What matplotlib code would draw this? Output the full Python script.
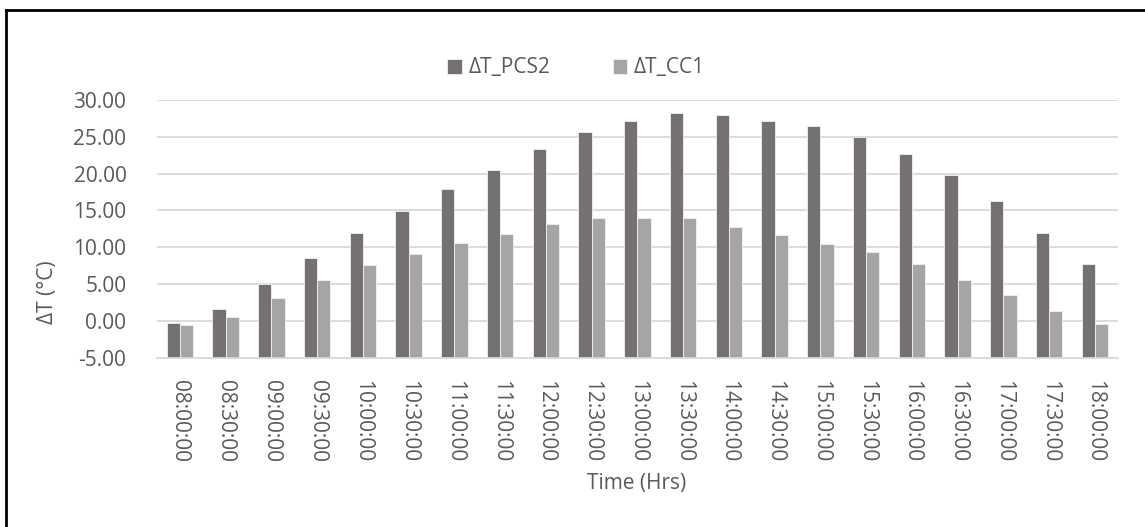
import numpy as np
import matplotlib.pyplot as plt
from matplotlib.lines import Line2D

times = ["08:00:00", "08:30:00", "09:00:00", "09:30:00", "10:00:00", "10:30:00",
         "11:00:00", "11:30:00", "12:00:00", "12:30:00", "13:00:00", "13:30:00",
         "14:00:00", "14:30:00", "15:00:00", "15:30:00", "16:00:00", "16:30:00",
         "17:00:00", "17:30:00", "18:00:00"]
dt_pcs2 = [-0.3, 1.7, 5.0, 8.6, 12.0, 14.9, 17.9, 20.5, 23.3, 25.6, 27.1, 28.2,
           27.9, 27.1, 26.4, 25.0, 22.6, 19.8, 16.3, 12.0, 7.7]
dt_cc1 = [-0.5, 0.6, 3.1, 5.6, 7.6, 9.1, 10.6, 11.8, 13.1, 14.0, 14.0, 14.0,
          12.8, 11.7, 10.5, 9.3, 7.7, 5.6, 3.6, 1.4, -0.4]
yticks = [-5, 0, 5, 10, 15, 20, 25, 30]

txt = "#595959"
plt.rcParams["font.family"] = ["Open Sans", "DejaVu Sans"]

fig = plt.figure(figsize=(11.45, 5.27), dpi=100)
ax = fig.add_axes([0.1371, 0.3207, 0.8391, 0.4901])

x = np.arange(len(times))
w = 0.29
base = yticks[0]
ax.bar(x - w/2, np.array(dt_pcs2) - base, w, bottom=base, color="#767171",
       edgecolor="#f2f2f2", linewidth=0.6, label="ΔT_PCS2")
ax.bar(x + w/2, np.array(dt_cc1) - base, w, bottom=base, color="#A5A5A5",
       edgecolor="#f2f2f2", linewidth=0.6, label="ΔT_CC1")

ax.set_xlim(-0.5, len(times) - 0.5)
ax.set_ylim(yticks[0], yticks[-1])
ax.set_yticks(yticks)
ax.set_yticklabels([f"{v:.2f}" for v in yticks])
ax.set_xticks(x)
ax.set_xticklabels(times, rotation=-90, va="top", ha="center")
ax.yaxis.grid(True, color="#d9d9d9", linewidth=1.3)
ax.set_axisbelow(True)
for s in ["top", "right", "left"]:
    ax.spines[s].set_visible(False)
ax.spines["bottom"].set_color("#d9d9d9")
ax.spines["bottom"].set_linewidth(1.3)
ax.tick_params(axis="both", length=0, labelsize=15, colors=txt)
ax.tick_params(axis="y", pad=22)
ax.tick_params(axis="x", pad=16)

fig.text(48/1145, 1 - 292/527, "ΔT (°C)", rotation=90, ha="center", va="center",
         fontsize=15, color=txt)
fig.text(637/1145, 1 - 484/527, "Time (Hrs)", ha="center", va="center",
         fontsize=15, color=txt)

fig.legend(loc="center", bbox_to_anchor=(576/1145, 1 - 68/527), ncol=2,
           frameon=False, fontsize=15, labelcolor=txt, handlelength=0.7,
           handleheight=0.7, handletextpad=0.3, columnspacing=3.0)

# border of the chart frame (left and top edges visible)
fig.add_artist(Line2D([6/1145, 6/1145], [0, 1 - 10/527], color="black",
                      linewidth=2, transform=fig.transFigure))
fig.add_artist(Line2D([6/1145, 1], [1 - 10/527, 1 - 10/527], color="black",
                      linewidth=2, transform=fig.transFigure))

fig.savefig("out.png", dpi=100)
